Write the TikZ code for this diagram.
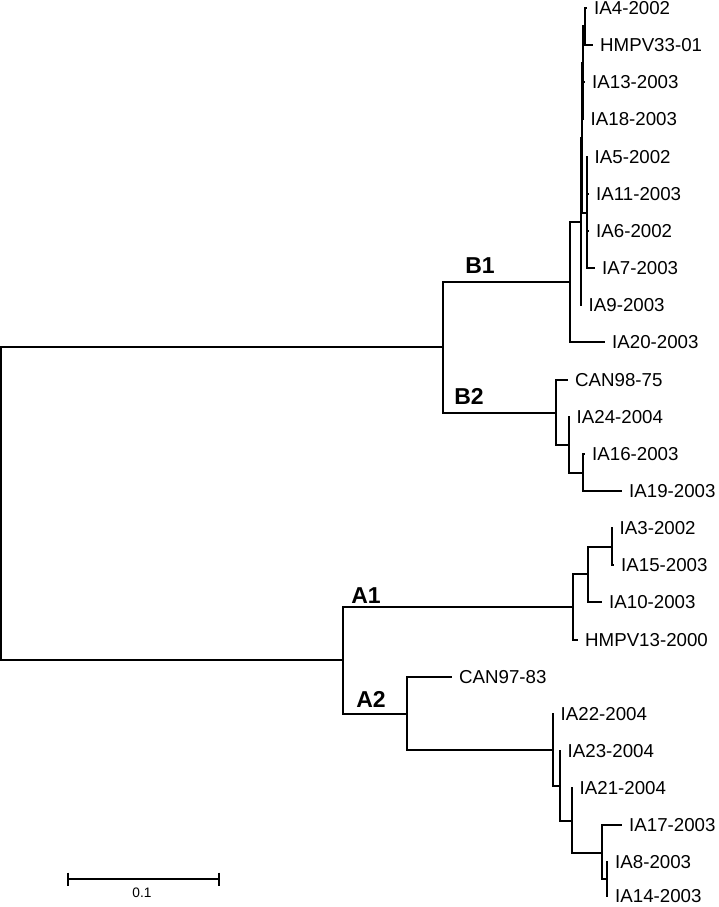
\documentclass[tikz,border=0pt]{standalone}
\usepackage{fontspec}
\setmainfont{Liberation Sans}
\usetikzlibrary{calc}

\tikzset{
  branch/.style={line width=2pt, line join=miter},
  leaf/.style={anchor=west, inner xsep=7pt, inner ysep=0pt,
               font=\fontsize{18.7}{20}\selectfont},
  clade/.style={inner sep=0pt, font=\fontsize{23}{25}\selectfont\bfseries},
  barlabel/.style={inner sep=0pt, font=\fontsize{13.7}{15}\selectfont}
}

\begin{document}
\begin{tikzpicture}[x=1pt, y=-1pt]
  \useasboundingbox (0,0) rectangle (718,907);
  % 内部节点 (名称/x/y)
  \foreach \n/\x/\y in {root/1/503.5, B/443/347, A/343/660,
                        b1a/570/282, b1b/581/221.5, b1c/582/138, b1d/583/63.5,
                        b1e/587/212.5, b1f/585/26.5, b1g/583/100.5,
                        b2a/556/412.5, b2b/569/445, b2c/583/472.5,
                        a1a/573/607, a1b/588/574, a1c/612/546.5,
                        a2a/407/713.5, a2b/553/750, a2c/560/786,
                        a2d/572/820.5, a2e/602/853, a2f/607/879}
    \coordinate (\n) at (\x,\y);
  % 叶节点及标签
  \foreach \n/\x/\y/\t in {ia4/587/8/IA4-2002, hmpv33/593/45/HMPV33-01,
                           ia13/585/82/IA13-2003, ia18/583.5/119/IA18-2003,
                           ia5/587.5/157/IA5-2002, ia11/589/194/IA11-2003,
                           ia6/589/231/IA6-2002, ia7/595/268/IA7-2003,
                           ia9/581.5/305/IA9-2003, ia20/605/342/IA20-2003,
                           can98/568/380/CAN98-75, ia24/569.5/417/IA24-2004,
                           ia16/585/454/IA16-2003, ia19/622/491/IA19-2003,
                           ia3/612.5/528/IA3-2002, ia15/614/565/IA15-2003,
                           ia10/602/602/IA10-2003, hmpv13/578/640/HMPV13-2000,
                           can97/452/677/CAN97-83, ia22/553.5/714/IA22-2004,
                           ia23/560.5/751/IA23-2004, ia21/572.5/788/IA21-2004,
                           ia17/622/825/IA17-2003, ia8/608/862/IA8-2003,
                           ia14/608/896/IA14-2003}
    {
     \coordinate (\n) at (\x,\y);
     \node[leaf] (lab\n) at (\n) {\t};
    }
  % 分支: 父节点 |- 子节点
  \foreach \a/\b in {root/B, root/A,
                     B/b1a, b1a/b1b, b1a/ia20, b1b/b1c, b1b/ia9,
                     b1c/b1d, b1c/b1e, b1d/b1f, b1d/b1g,
                     b1f/ia4, b1f/hmpv33, b1g/ia13, b1g/ia18,
                     b1e/ia5, b1e/ia11, b1e/ia6, b1e/ia7,
                     B/b2a, b2a/can98, b2a/b2b, b2b/ia24, b2b/b2c,
                     b2c/ia16, b2c/ia19,
                     A/a1a, a1a/a1b, a1a/hmpv13, a1b/a1c, a1b/ia10,
                     a1c/ia3, a1c/ia15,
                     A/a2a, a2a/can97, a2a/a2b, a2b/ia22, a2b/a2c,
                     a2c/ia23, a2c/a2d, a2d/ia21, a2d/a2e,
                     a2e/ia17, a2e/a2f, a2f/ia8, a2f/ia14}
    \draw[branch] (\a) |- (\b);
  % 分支标签
  \node[clade] (labB1) at (480,266) {B1};
  \node[clade] (labB2) at (469,396) {B2};
  \node[clade] (labA1) at (366,596) {A1};
  \node[clade] (labA2) at (371,699) {A2};
  % 比例尺
  \coordinate (s0) at (68,879);
  \coordinate (s1) at (219,879);
  \draw[branch] (s0) -- (s1);
  \draw[branch] ([yshift=6.5pt]s0) -- ([yshift=-6.5pt]s0);
  \draw[branch] ([yshift=6.5pt]s1) -- ([yshift=-6.5pt]s1);
  \node[barlabel] (labscale) at (142,893) {0.1};
\end{tikzpicture}
\end{document}
